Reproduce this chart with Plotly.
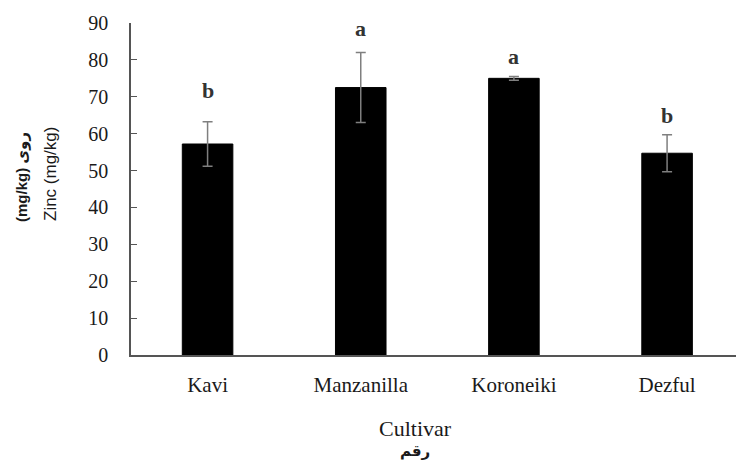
import plotly.graph_objects as go

cultivars = ["Kavi", "Manzanilla", "Koroneiki", "Dezful"]
zinc = [57.2, 72.5, 75.0, 54.7]
zinc_err = [6.0, 9.5, 0.5, 5.0]
group_letters = ["b", "a", "a", "b"]
letter_y = [71.8, 88.6, 80.9, 65.0]
y_ticks = [0, 10, 20, 30, 40, 50, 60, 70, 80, 90]

serif = "Liberation Serif, Times New Roman, serif"
sans = "Liberation Sans, DejaVu Sans, Arial, sans-serif"
ink = "#1a1a1a"

# plot box in pixels, used to place the free-standing titles
L, R, T, B = 131, 736, 23, 355


def px_x(px):
    return (px - L) / (R - L)


def px_y(py):
    return (B - py) / (B - T)


fig = go.Figure()
fig.add_trace(go.Bar(
    x=cultivars,
    y=zinc,
    width=0.33,
    marker=dict(color="black", line=dict(color="black", width=1)),
    error_y=dict(type="data", array=zinc_err, visible=True,
                 color="#7f7f7f", thickness=1.5, width=5),
))

# significance letters above the bars
for cat, letter, ly in zip(cultivars, group_letters, letter_y):
    fig.add_annotation(x=cat, y=ly, text=f"<b>{letter}</b>", showarrow=False,
                       font=dict(family=serif, size=22, color="#333333"),
                       xref="x", yref="y", xanchor="center", yanchor="middle")

# x-axis titles (English and Persian)
fig.add_annotation(x=px_x(415), y=px_y(428), xref="paper", yref="paper",
                   xanchor="center", yanchor="middle",
                   text="Cultivar", showarrow=False,
                   font=dict(family=serif, size=22, color=ink))
fig.add_annotation(x=px_x(415), y=px_y(451), xref="paper", yref="paper",
                   xanchor="center", yanchor="middle",
                   text="<b>رقم</b>", showarrow=False,
                   font=dict(family=sans, size=15, color=ink))

# y-axis titles (Persian and English), rotated
fig.add_annotation(text="<b>(mg/kg) روی</b>", textangle=-90, showarrow=False,
                   x=px_x(22), y=px_y(177), xref="paper", yref="paper",
                   xanchor="center", yanchor="middle",
                   font=dict(family=sans, size=15, color=ink))
fig.add_annotation(text="Zinc (mg/kg)", textangle=-90, showarrow=False,
                   x=px_x(50), y=px_y(174), xref="paper", yref="paper",
                   xanchor="center", yanchor="middle",
                   font=dict(family=sans, size=17, color=ink))

fig.update_layout(
    width=736, height=465,
    margin=dict(l=L, r=736 - R, t=T, b=465 - B),
    paper_bgcolor="white", plot_bgcolor="white",
    showlegend=False,
    xaxis=dict(range=[-0.5, 3.45], showline=True, linecolor="#555555", linewidth=1.5,
               ticks="", showgrid=False, zeroline=False,
               tickfont=dict(family=serif, size=21, color=ink),
               ticklabelstandoff=10),
    yaxis=dict(range=[0, 90], tickvals=y_ticks, showline=True, linecolor="#555555",
               linewidth=1.5, ticks="inside", ticklen=6, tickcolor="#555555",
               showgrid=False, zeroline=False,
               tickfont=dict(family=serif, size=20, color=ink),
               ticklabelstandoff=17),
)

fig.write_html("out.html")
